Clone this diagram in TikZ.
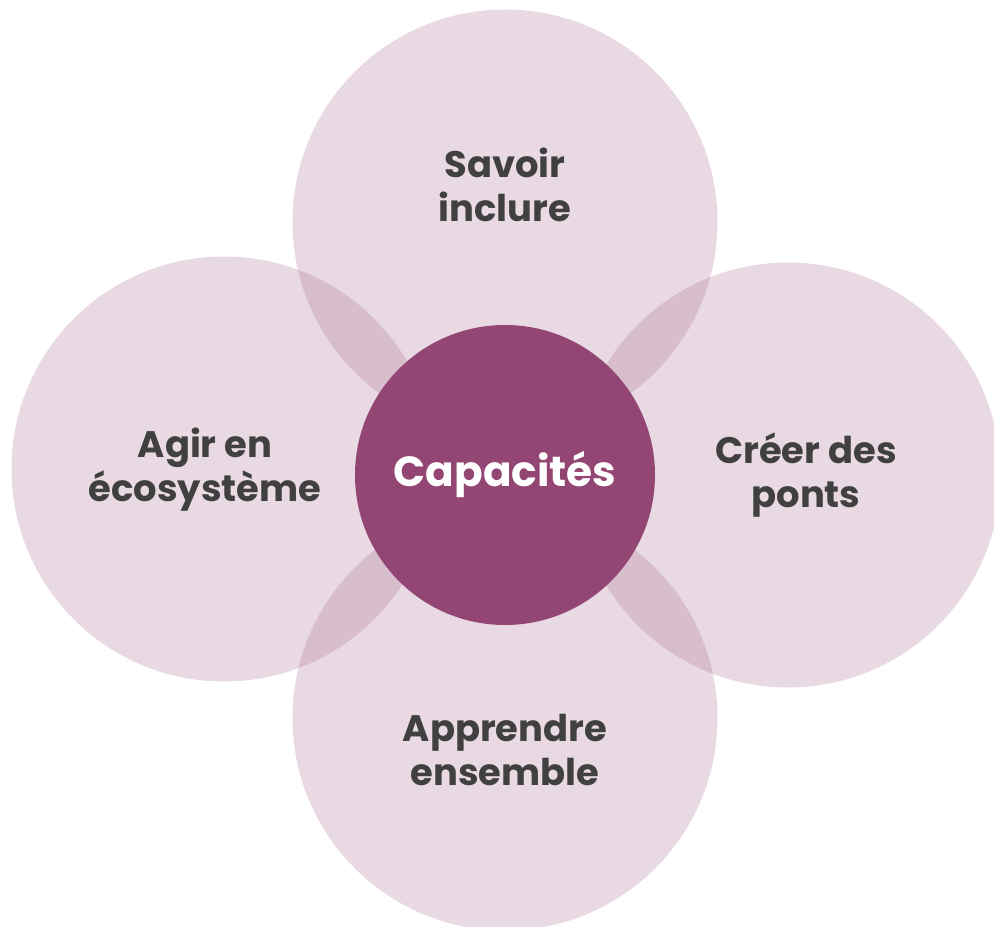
\documentclass[tikz,border=0pt]{standalone}
\usepackage{fontspec}
\setmainfont{Poppins}
\definecolor{petal}{RGB}{179,128,158}
\definecolor{plum}{RGB}{147,69,115}
\definecolor{ink}{RGB}{64,64,64}
\tikzset{
    petal/.style={circle, fill=petal, fill opacity=0.3, minimum size=8.5cm, inner sep=0pt},
    core/.style={circle, fill=plum, minimum size=6cm, inner sep=0pt},
    label/.style={text=ink, font=\fontsize{21}{25}\selectfont\bfseries, align=center}
}
\begin{document}
\begin{tikzpicture}
        \useasboundingbox (0,0) rectangle (19.88,-18.54);
        % four petals
        \node[petal] (top) at (10.1,-4.44) {};
        \node[petal] (left) at (4.48,-9.38) {};
        \node[petal] (right) at (15.76,-9.5) {};
        \node[petal] (bottom) at (10.1,-14.36) {};
        % centre
        \node[core] (centre) at (10.1,-9.5) {};
        \node[text=white, font=\fontsize{24}{30}\selectfont\bfseries] (capa) at (centre) {Capacités};
        % labels
        \node[label] (savoir) at (10.1,-3.7) {Savoir\\inclure};
        \node[label] (agir) at (4.1,-9.4) {Agir en\\écosystème};
        \node[label] (creer) at (16.12,-9.5) {Créer des\\ponts};
        \node[label] (apprendre) at (10.1,-15.0) {Apprendre\\ensemble};
\end{tikzpicture}
\end{document}
